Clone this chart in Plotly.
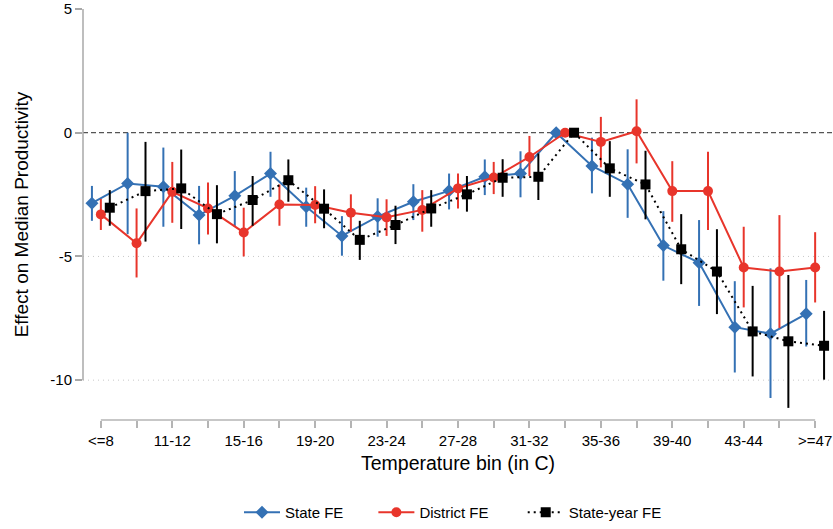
import plotly.graph_objects as go

bins = ["<=8", "9-10", "11-12", "13-14", "15-16", "17-18", "19-20", "21-22",
        "23-24", "25-26", "27-28", "29-30", "31-32", "33-34", "35-36", "37-38",
        "39-40", "41-42", "43-44", "45-46", ">=47"]
tick_labels = [b if i % 2 == 0 else "" for i, b in enumerate(bins)]

state_est = [-2.85, -2.05, -2.18, -3.33, -2.55, -1.65, -2.99, -4.17, -3.39, -2.79, -2.35,
             -1.78, -1.65, 0.0, -1.34, -2.08, -4.56, -5.25, -7.86, -8.12, -7.32]
state_lo = [-3.56, -4.10, -3.80, -4.51, -3.80, -2.59, -3.80, -4.97, -4.20, -3.53, -3.10,
            -2.52, -2.61, 0.0, -2.45, -3.44, -5.98, -7.00, -9.69, -10.72, -8.64]
state_hi = [-2.15, 0.00, -0.60, -2.15, -1.55, -0.77, -2.22, -3.37, -2.65, -2.08, -1.65,
            -1.08, -0.75, 0.0, -0.20, -0.67, -3.17, -3.53, -6.00, -5.48, -5.95]

district_est = [-3.30, -4.47, -2.39, -3.06, -4.03, -2.90, -2.92, -3.23, -3.42, -3.12, -2.25,
                -1.81, -0.98, 0.0, -0.37, 0.06, -2.36, -2.36, -5.45, -5.61, -5.45]
district_lo = [-3.93, -5.85, -3.64, -4.11, -5.00, -3.76, -3.66, -4.00, -4.17, -4.00, -3.06,
               -2.48, -1.75, 0.0, -1.40, -1.24, -3.60, -3.93, -7.06, -7.90, -6.86]
district_hi = [-2.68, -3.06, -1.18, -2.01, -3.03, -2.09, -2.16, -2.49, -2.69, -2.32, -1.65,
               -1.18, -0.13, 0.0, 0.64, 1.35, -1.15, -0.77, -3.80, -3.33, -4.02]

sy_est = [-3.03, -2.36, -2.25, -3.29, -2.72, -1.92, -3.07, -4.33, -3.73, -3.06, -2.49,
          -1.82, -1.78, 0.0, -1.44, -2.09, -4.71, -5.61, -8.03, -8.43, -8.61]
sy_lo = [-3.76, -4.40, -3.89, -4.47, -3.76, -2.79, -3.86, -5.14, -4.50, -3.80, -3.19,
         -2.59, -2.72, 0.0, -2.59, -3.50, -6.12, -7.33, -9.85, -11.12, -9.98]
sy_hi = [-2.32, -0.37, -0.68, -2.12, -1.75, -1.08, -2.29, -3.56, -2.95, -2.32, -1.75,
         -1.07, -0.84, 0.0, -0.34, -0.73, -3.29, -3.90, -6.19, -5.75, -7.20]

y_ticks = [5, 0, -5, -10]
y_tick_text = ["5", "0", "-5", "-10"]
grid_lines = [-5, -10]
ref_line = 0

BLUE = "#3471b4"
RED = "#e8352b"
BLACK = "#000000"
NB1 = "\u00a0" * 6
NB2 = "\u00a0" * 7

series = [
    ("State FE" + NB1, state_est, state_lo, state_hi, -0.25, BLUE, "diamond", 10, "solid"),
    ("District FE" + NB2, district_est, district_lo, district_hi, 0.0, RED, "circle", 10, "solid"),
    ("State-year FE", sy_est, sy_lo, sy_hi, 0.25, BLACK, "square", 10, "2px,4px"),
]

fig = go.Figure()
for name, est, lo, hi, off, col, sym, msize, dash in series:
    xs = [i + off for i in range(len(bins))]
    fig.add_trace(go.Scatter(
        x=xs, y=est, name=name, mode="lines+markers",
        line=dict(color=col, width=2, dash=dash),
        marker=dict(color=col, symbol=sym, size=msize, line=dict(width=0)),
        error_y=dict(type="data", symmetric=False,
                     array=[h - e for h, e in zip(hi, est)],
                     arrayminus=[e - l for e, l in zip(est, lo)],
                     color=col, thickness=2, width=0),
    ))

shapes = []
for g in grid_lines:
    shapes.append(dict(type="line", xref="paper", yref="y", x0=0, x1=1, y0=g, y1=g,
                       line=dict(color="#c8c8c8", width=1, dash="1px,4px"), layer="below"))
shapes.append(dict(type="line", xref="paper", yref="y", x0=0, x1=1, y0=ref_line, y1=ref_line,
                   line=dict(color="#555555", width=1.3, dash="5px,3px"), layer="below"))
# axis lines (Stata-style, spanning only the tick range)
shapes.append(dict(type="line", xref="paper", yref="y", x0=0, x1=0, y0=min(y_ticks), y1=max(y_ticks),
                   line=dict(color="#a8a8a8", width=1.5)))
shapes.append(dict(type="line", xref="x", yref="paper", x0=0, x1=len(bins) - 1, y0=0, y1=0,
                   line=dict(color="#b4b4b4", width=1.5)))

fig.update_layout(
    width=833, height=529,
    margin=dict(l=83, r=0, t=9, b=108),
    paper_bgcolor="white", plot_bgcolor="white",
    font=dict(family="Liberation Sans, Arial, sans-serif", color="black", size=15),
    shapes=shapes,
    showlegend=True,
    legend=dict(orientation="h", x=0.208, xanchor="left", y=-0.2257, yanchor="middle",
                font=dict(size=15), itemwidth=36, bgcolor="rgba(0,0,0,0)"),
    xaxis=dict(range=[-0.5, len(bins) - 0.5], tickmode="array",
               tickvals=list(range(len(bins))), ticktext=tick_labels,
               ticks="outside", ticklen=7, tickwidth=1.5, tickcolor="#b4b4b4",
               showline=False, showgrid=False, zeroline=False,
               tickfont=dict(size=15), ticklabeloverflow="allow",
               title=dict(text="Temperature bin (in C)", font=dict(size=19.5), standoff=8)),
    yaxis=dict(range=[-11.61, 5], tickmode="array", tickvals=y_ticks, ticktext=y_tick_text,
               ticks="outside", ticklen=7, tickwidth=1.5, tickcolor="#a8a8a8",
               showline=False, showgrid=False, zeroline=False,
               tickfont=dict(size=15), ticklabeloverflow="allow",
               title=dict(text="Effect on Median Productivity", font=dict(size=19), standoff=16)),
)

fig.write_html(
    "out.html",
    config={"displayModeBar": False},
    post_script="document.body.style.margin='0px';document.body.style.overflow='hidden';",
)
